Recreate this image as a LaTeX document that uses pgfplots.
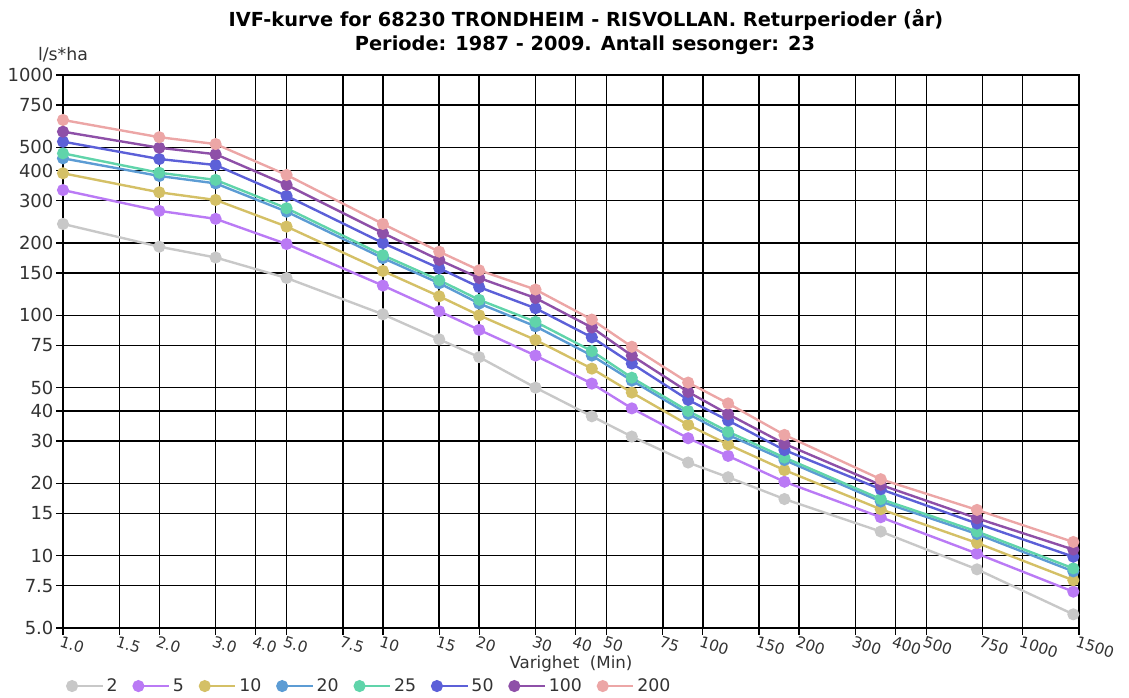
\documentclass[border=0pt]{standalone}
\usepackage{pgfplots}
\pgfplotsset{compat=1.18}
\usepackage{pgfplotstable}
\usepackage{fontspec}
\setmainfont{DejaVu Sans}

\definecolor{c2}{RGB}{200,200,200}
\definecolor{c5}{RGB}{186,122,245}
\definecolor{c10}{RGB}{212,192,102}
\definecolor{c20}{RGB}{92,156,212}
\definecolor{c25}{RGB}{96,212,170}
\definecolor{c50}{RGB}{92,96,216}
\definecolor{c100}{RGB}{142,80,168}
\definecolor{c200}{RGB}{236,166,166}

% intensitet (l/s*ha) per varighet (min) og returperiode (aar)
\pgfplotstableread{
x    r2    r5    r10   r20   r25   r50   r100  r200
1    240   332   390   450   472   528   581   650
2    193   272   325   380   392   447   498   551
3    174   252   302   354   366   422   468   516
5    143   198   234   270   279   314   349   384
10   101   133   153   173   178   200   220   240
15   79.5  104   120   136   140   157   170   184
20   67    87    100   112   116   131   143   154
30   50    68    79    90    94    107   118   128
45   38    52    60    68    71    81    89    96
60   31.3  41    47.7  53.5  55    63    68    74
90   24.4  30.8  35    38.9  40    44.5  48    52.5
120  21.2  26    29    31.8  32.8  36.5  38.8  43
180  17.2  20.3  22.7  25    25.6  27.5  29.2  31.8
360  12.6  14.45 15.6  16.8  17.2  18.9  19.7  20.8
720  8.77  10.2  11.3  12.3  12.6  13.6  14.3  15.5
1440 5.7   7.08  7.9   8.6   8.85  9.9   10.6  11.4
}\ivf

\begin{document}
\begin{tikzpicture}
\useasboundingbox (-47.25pt,-52.5pt) rectangle (799.5pt,471pt);
\begin{axis}[
  scale only axis,
  width=762pt, height=414.75pt,
  xmode=log, ymode=log,
  xmin=1, xmax=1500, ymin=5, ymax=1000,
  xtick={1,1.5,2,3,4,5,7.5,10,15,20,30,40,50,75,100,150,200,300,400,500,750,1000,1500},
  xticklabels={1.0,1.5,2.0,3.0,4.0,5.0,7.5,10,15,20,30,40,50,75,100,150,200,300,400,500,750,1000,1500},
  ytick={5,7.5,10,15,20,30,40,50,75,100,150,200,300,400,500,750,1000},
  yticklabels={5.0,7.5,10,15,20,30,40,50,75,100,150,200,300,400,500,750,1000},
  xminorticks=false, yminorticks=false,
  xtick pos=lower, ytick pos=left,
  tick align=outside, major tick length=5pt,
  tick style={black, line width=1pt},
  grid=major,
  major grid style={black, line width=1.1pt},
  axis line style={black, line width=1.1pt},
  /pgf/number format/assume math mode=true,
  yticklabel style={font=\fontsize{13.5}{15}\selectfont, color=black!80, inner sep=2pt},
  xticklabel style={font=\fontsize{11.5}{13}\selectfont, color=black!80, rotate=-18, anchor=north west, inner sep=0.5pt, xshift=-1pt},
  every axis plot/.append style={line width=1.8pt, mark=*, mark size=3.6pt},
  legend style={at={(axis description cs:0,-0.105)}, anchor=west, draw=none, fill=none,
    font=\fontsize{13}{15}\selectfont, text=black!80,
    /tikz/every even column/.append style={column sep=10pt}},
  legend columns=8,
  legend image code/.code={
    \draw[mark repeat=3,mark phase=1,#1] plot coordinates {(0pt,0pt) (11.5pt,0pt) (23pt,0pt)};
  },
]
\addplot[c2]   table[x=x, y=r2]   {\ivf};
\addplot[c5]   table[x=x, y=r5]   {\ivf};
\addplot[c10]  table[x=x, y=r10]  {\ivf};
\addplot[c20]  table[x=x, y=r20]  {\ivf};
\addplot[c25]  table[x=x, y=r25]  {\ivf};
\addplot[c50]  table[x=x, y=r50]  {\ivf};
\addplot[c100] table[x=x, y=r100] {\ivf};
\addplot[c200] table[x=x, y=r200] {\ivf};
\legend{2,5,10,20,25,50,100,200}
\end{axis}
\node[font=\bfseries\fontsize{14.5}{16}\selectfont] at (392.25pt,456pt) {IVF-kurve for 68230 TRONDHEIM - RISVOLLAN. Returperioder (år)};
\node[font=\bfseries\fontsize{14.5}{16}\selectfont] at (391.5pt,437.25pt) {Periode: 1987 - 2009. Antall sesonger: 23};
\node[font=\fontsize{13}{15}\selectfont, text=black!80] at (0pt,429.75pt) {l/s*ha};
\node[font=\fontsize{12.5}{14}\selectfont, text=black!80] at (381pt,-27pt) {Varighet\ \ (Min)};
\end{tikzpicture}
\end{document}
